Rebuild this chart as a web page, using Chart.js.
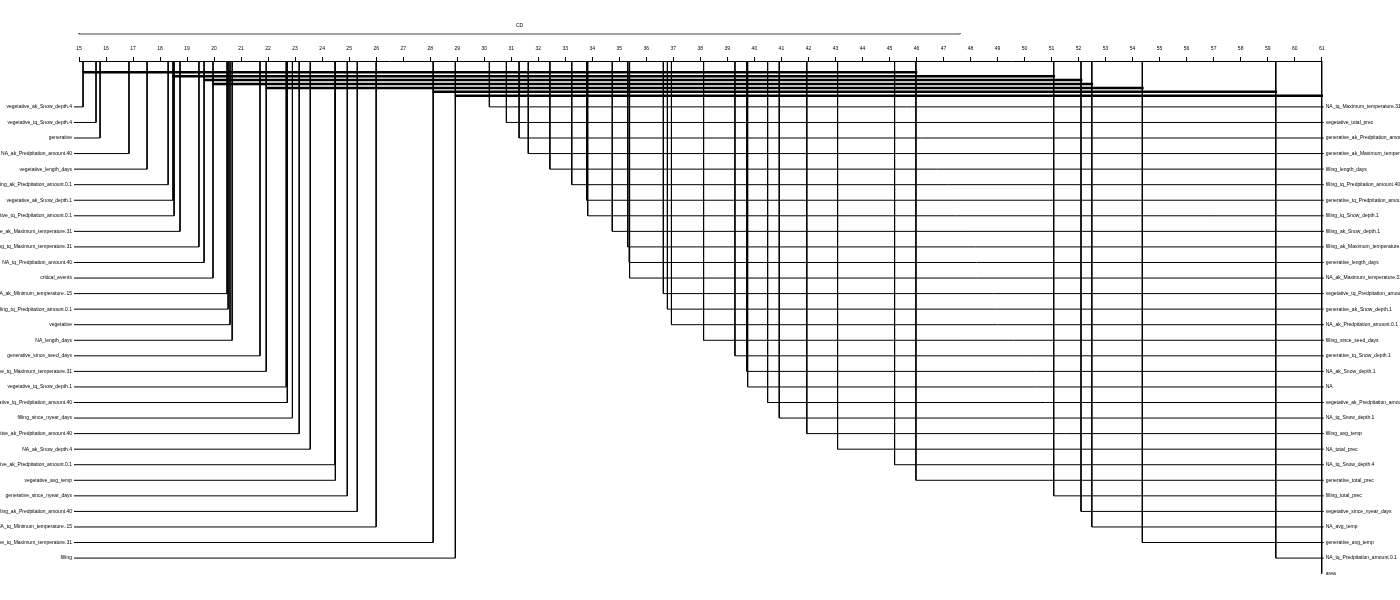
<!DOCTYPE html>
<html>
<head>
<meta charset="utf-8">
<script src="https://cdn.jsdelivr.net/npm/chart.js@4.4.1/dist/chart.umd.min.js"></script>
<style>
html,body{margin:0;padding:0;background:#fff;}
#wrap{width:1400px;height:600px;position:relative;}
</style>
</head>
<body>
<div id="wrap"><canvas id="c"></canvas></div>
<script>
// ---- data (average ranks) ----
const leftNames = [
  'vegetative_ak_Snow_depth.4','vegetative_tq_Snow_depth.4','generative','NA_ak_Predpitation_amount.40',
  'vegetative_length_days','filling_ak_Predpitation_amount.0.1','vegetative_ak_Snow_depth.1',
  'generative_tq_Predpitation_amount.0.1','vegetative_ak_Maximum_temperature.31','filling_tq_Maximum_temperature.31',
  'NA_tq_Predpitation_amount.40','critical_events','NA_ak_Minimum_temperature..15','filling_tq_Predpitation_amount.0.1',
  'vegetative','NA_length_days','generative_since_seed_days','generative_tq_Maximum_temperature.31',
  'vegetative_tq_Snow_depth.1','vegetative_tq_Predpitation_amount.40','filling_since_nyear_days',
  'generative_ak_Predpitation_amount.40','NA_ak_Snow_depth.4','vegetative_ak_Predpitation_amount.0.1',
  'vegetative_avg_temp','generative_since_nyear_days','filling_ak_Predpitation_amount.40',
  'NA_tq_Minimum_temperature..15','vegetative_tq_Maximum_temperature.31','filling'
];
const leftRanks = [
  15.15, 15.63, 15.78, 16.85, 17.52, 18.30, 18.48, 18.52, 18.74, 19.44,
  19.63, 19.96, 20.48, 20.52, 20.59, 20.67, 21.70, 21.93, 22.67, 22.71,
  22.90, 23.15, 23.56, 24.48, 24.49, 24.93, 25.30, 26.00, 28.11, 28.93
];
const rightNames = [
  'NA_tq_Maximum_temperature.31','vegetative_total_prec','generative_ak_Predpitation_amount.0.1',
  'generative_ak_Maximum_temperature.31','filling_length_days','filling_tq_Predpitation_amount.40',
  'generative_tq_Predpitation_amount.40','filling_tq_Snow_depth.1','filling_ak_Snow_depth.1',
  'filling_ak_Maximum_temperature.31','generative_length_days','NA_ak_Maximum_temperature.31',
  'vegetative_tq_Predpitation_amount.0.1','generative_ak_Snow_depth.1','NA_ak_Predpitation_amount.0.1',
  'filling_since_seed_days','generative_tq_Snow_depth.1','NA_ak_Snow_depth.1','NA',
  'vegetative_ak_Predpitation_amount.40','NA_tq_Snow_depth.1','filling_avg_temp','NA_total_prec',
  'NA_tq_Snow_depth.4','generative_total_prec','filling_total_prec','vegetative_since_nyear_days',
  'NA_avg_temp','generative_avg_temp','NA_tq_Predpitation_amount.0.1','area'
];
const rightRanks = [
  30.19, 30.82, 31.29, 31.63, 32.43, 33.24, 33.79, 33.83, 34.74, 35.31,
  35.37, 35.38, 36.63, 36.78, 36.93, 38.12, 39.28, 39.72, 39.75, 40.49,
  40.92, 41.94, 43.08, 45.19, 45.98, 51.08, 52.09, 52.49, 54.36, 59.30,
  61.00
];
const tickValues = [15,16,17,18,19,20,21,22,23,24,25,26,27,28,29,30,31,32,33,34,35,36,37,38,
  39,40,41,42,43,44,45,46,47,48,49,50,51,52,53,54,55,56,57,58,59,60,61];
const criticalDifference = 32.62;
const cdLabel = 'CD';
const cliqueStarts = [15.15, 18.48, 19.63, 19.96, 21.93, 28.11, 28.93];
const cliqueEnds   = [45.98, 51.08, 52.09, 52.49, 54.36, 59.30, 61.00];

// ---- layout (in scale units) ----
const AX_MIN = tickValues[0], AX_MAX = tickValues[tickValues.length - 1];
const Y_TOP = -1.95, Y_BOTTOM = 32.63;
const CD_Y = -3.685, CD_TEXT_Y = -4.2;
const CLIQUE_Y0 = -1.224, CLIQUE_STEP = 0.2506;
const LEFT_END = AX_MIN - 0.185, RIGHT_END = AX_MAX + 0.075;

const thin = {borderColor:'#000', borderWidth:1, pointRadius:0, showLine:true, fill:false,
  tension:0, clip:false, borderCapStyle:'butt', borderJoinStyle:'miter'};
const datasets = [];
leftRanks.forEach((r, i) => {
  datasets.push(Object.assign({data:[{x:r,y:Y_TOP},{x:r,y:i+1},{x:LEFT_END,y:i+1}]}, thin));
});
rightRanks.forEach((r, i) => {
  datasets.push(Object.assign({data:[{x:r,y:Y_TOP},{x:r,y:i+1},{x:RIGHT_END,y:i+1}]}, thin));
});
cliqueStarts.forEach((s, j) => {
  const yy = CLIQUE_Y0 + j * CLIQUE_STEP;
  datasets.push(Object.assign({}, thin, {borderWidth:2.5,
    data:[{x:s - 0.02, y:yy}, {x:cliqueEnds[j] + 0.05, y:yy}]}));
});
datasets.push(Object.assign({}, thin, {borderColor:'#444', data:[
  {x:AX_MIN, y:CD_Y - 0.06}, {x:AX_MIN, y:CD_Y},
  {x:AX_MIN + criticalDifference, y:CD_Y}, {x:AX_MIN + criticalDifference, y:CD_Y - 0.06}]}));

const FONT = '"Liberation Sans", Arial, sans-serif';
const labelPlugin = {
  id: 'cdLabels',
  afterDatasetsDraw(chart) {
    const {ctx} = chart; const x = chart.scales.x, y = chart.scales.y;
    ctx.save();
    ctx.font = '5px ' + FONT;
    ctx.fillStyle = '#000';
    ctx.textBaseline = 'middle';
    ctx.textAlign = 'right';
    leftNames.forEach((n, i) => ctx.fillText(n, x.getPixelForValue(LEFT_END) - 2, y.getPixelForValue(i + 1)));
    ctx.textAlign = 'left';
    rightNames.forEach((n, i) => ctx.fillText(n, x.getPixelForValue(RIGHT_END) + 2, y.getPixelForValue(i + 1)));
    ctx.textAlign = 'center';
    ctx.fillText(cdLabel, x.getPixelForValue(AX_MIN + criticalDifference / 2), y.getPixelForValue(CD_TEXT_Y));
    ctx.restore();
  }
};

new Chart(document.getElementById('c'), {
  type: 'scatter',
  data: {datasets},
  options: {
    responsive: true, maintainAspectRatio: false, animation: false,
    layout: {padding: {left: 79, right: 78.3, top: 21, bottom: 1}},
    plugins: {legend: {display: false}, tooltip: {enabled: false}},
    events: [],
    scales: {
      x: {
        type: 'linear', position: 'top', min: AX_MIN, max: AX_MAX,
        afterBuildTicks: s => { s.ticks = tickValues.map(v => ({value: v})); },
        afterFit: s => { s.height = 40; },
        ticks: {autoSkip: false, maxRotation: 0, padding: 5, color: '#000',
          font: {size: 5, family: FONT}},
        grid: {drawOnChartArea: false, drawTicks: true, tickLength: 4, tickColor: '#000', color: '#000'},
        border: {display: true, color: '#000', width: 1}
      },
      y: {type: 'linear', display: false, reverse: true, min: Y_TOP, max: Y_BOTTOM}
    }
  },
  plugins: [labelPlugin]
});
</script>
</body>
</html>
